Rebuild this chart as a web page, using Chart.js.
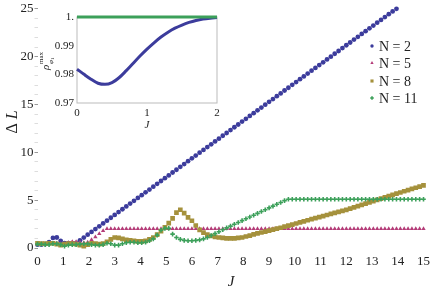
<!DOCTYPE html>
<html>
<head>
<meta charset="utf-8">
<script src="https://cdn.jsdelivr.net/npm/chart.js@4.4.0/dist/chart.umd.min.js"></script>
<style>
  html, body { margin: 0; padding: 0; background: #fff; }
  #wrap { position: relative; width: 436px; height: 290px; }
  #main { position: absolute; left: 0; top: 0; }
  #inset { position: absolute; left: 30px; top: 5px; }
</style>
</head>
<body>
<div id="wrap">
  <canvas id="main" width="436" height="290"></canvas>
  <canvas id="inset" width="200" height="130"></canvas>
</div>
<script>
// main plot: Delta L against J
const J = [
  0, 0.15, 0.3, 0.45, 0.6, 0.75, 0.9, 1.05, 1.2, 1.35,
  1.5, 1.65, 1.8, 1.95, 2.1, 2.25, 2.4, 2.55, 2.7, 2.85,
  3, 3.15, 3.3, 3.45, 3.6, 3.75, 3.9, 4.05, 4.2, 4.35,
  4.5, 4.65, 4.8, 4.95, 5.1, 5.25, 5.4, 5.55, 5.7, 5.85,
  6, 6.15, 6.3, 6.45, 6.6, 6.75, 6.9, 7.05, 7.2, 7.35,
  7.5, 7.65, 7.8, 7.95, 8.1, 8.25, 8.4, 8.55, 8.7, 8.85,
  9, 9.15, 9.3, 9.45, 9.6, 9.75, 9.9, 10.05, 10.2, 10.35,
  10.5, 10.65, 10.8, 10.95, 11.1, 11.25, 11.4, 11.55, 11.7, 11.85,
  12, 12.15, 12.3, 12.45, 12.6, 12.75, 12.9, 13.05, 13.2, 13.35,
  13.5, 13.65, 13.8, 13.95, 14.1, 14.25, 14.4, 14.55, 14.7, 14.85,
  15
];

const n2 = [
  0.35, 0.35, 0.4, 0.6, 1.05, 1.1, 0.75, 0.5, 0.5, 0.5,
  0.5, 0.8, 1.09, 1.39, 1.68, 1.98, 2.27, 2.57, 2.86, 3.16,
  3.46, 3.75, 4.05, 4.34, 4.64, 4.93, 5.23, 5.52, 5.82, 6.11,
  6.41, 6.71, 7.0, 7.3, 7.59, 7.89, 8.18, 8.48, 8.77, 9.07,
  9.37, 9.66, 9.96, 10.25, 10.55, 10.84, 11.14, 11.43, 11.73, 12.02,
  12.32, 12.62, 12.91, 13.21, 13.5, 13.8, 14.09, 14.39, 14.68, 14.98,
  15.28, 15.57, 15.87, 16.16, 16.46, 16.75, 17.05, 17.34, 17.64, 17.93,
  18.23, 18.53, 18.82, 19.12, 19.41, 19.71, 20.0, 20.3, 20.59, 20.89,
  21.19, 21.48, 21.78, 22.07, 22.37, 22.66, 22.96, 23.25, 23.55, 23.84,
  24.14, 24.44, 24.73, 25.0, null, null, null, null, null, null,
  null
];

const n5 = [
  0.45, 0.45, 0.4, 0.45, 0.5, 0.5, 0.45, 0.45, 0.55, 0.65,
  0.65, 0.6, 0.55, 0.6, 0.85, 1.15, 1.5, 1.8, 2.0, 2.0,
  2.0, 2.0, 2.0, 2.0, 2.0, 2.0, 2.0, 2.0, 2.0, 2.0,
  2.0, 2.0, 2.0, 2.0, 2.0, 2.0, 2.0, 2.0, 2.0, 2.0,
  2.0, 2.0, 2.0, 2.0, 2.0, 2.0, 2.0, 2.0, 2.0, 2.0,
  2.0, 2.0, 2.0, 2.0, 2.0, 2.0, 2.0, 2.0, 2.0, 2.0,
  2.0, 2.0, 2.0, 2.0, 2.0, 2.0, 2.0, 2.0, 2.0, 2.0,
  2.0, 2.0, 2.0, 2.0, 2.0, 2.0, 2.0, 2.0, 2.0, 2.0,
  2.0, 2.0, 2.0, 2.0, 2.0, 2.0, 2.0, 2.0, 2.0, 2.0,
  2.0, 2.0, 2.0, 2.0, 2.0, 2.0, 2.0, 2.0, 2.0, 2.0,
  2.0
];

const n8 = [
  0.5, 0.45, 0.45, 0.5, 0.5, 0.4, 0.3, 0.4, 0.45, 0.45,
  0.4, 0.3, 0.2, 0.35, 0.5, 0.45, 0.4, 0.45, 0.65, 0.9,
  1.1, 1.05, 0.95, 0.85, 0.8, 0.75, 0.7, 0.7, 0.75, 0.9,
  1.1, 1.4, 1.75, 2.15, 2.6, 3.1, 3.7, 4.0, 3.65, 3.2,
  2.85, 2.35, 1.9, 1.6, 1.4, 1.25, 1.15, 1.1, 1.05, 1.0,
  1.0, 1.0, 1.05, 1.1, 1.2, 1.3, 1.42, 1.52, 1.62, 1.72,
  1.82, 1.92, 2.02, 2.12, 2.23, 2.34, 2.45, 2.56, 2.67, 2.78,
  2.9, 3.01, 3.12, 3.23, 3.34, 3.45, 3.56, 3.67, 3.78, 3.88,
  3.99, 4.11, 4.24, 4.37, 4.5, 4.63, 4.76, 4.9, 5.03, 5.16,
  5.29, 5.42, 5.55, 5.68, 5.8, 5.93, 6.05, 6.18, 6.3, 6.42,
  6.55
];

const n11 = [
  0.4, 0.4, 0.35, 0.35, 0.45, 0.45, 0.35, 0.2, 0.3, 0.35,
  0.35, 0.4, 0.45, 0.45, 0.35, 0.3, 0.3, 0.35, 0.5, 0.45,
  0.3, 0.3, 0.45, 0.55, 0.6, 0.6, 0.55, 0.55, 0.6, 0.75,
  0.95, 1.35, 1.85, 2.05, 2.05, 1.45, 1.1, 0.9, 0.8, 0.75,
  0.75, 0.8, 0.85, 0.95, 1.1, 1.3, 1.5, 1.7, 1.9, 2.1,
  2.29, 2.48, 2.67, 2.86, 3.05, 3.24, 3.43, 3.62, 3.81, 4.0,
  4.19, 4.38, 4.57, 4.76, 4.95, 5.1, 5.1, 5.1, 5.1, 5.1,
  5.1, 5.1, 5.1, 5.1, 5.1, 5.1, 5.1, 5.1, 5.1, 5.1,
  5.1, 5.1, 5.1, 5.1, 5.1, 5.1, 5.1, 5.1, 5.1, 5.1,
  5.1, 5.1, 5.1, 5.1, 5.1, 5.1, 5.1, 5.1, 5.1, 5.1,
  5.1
];

const seriesLabels = ['N = 2', 'N = 5', 'N = 8', 'N = 11'];

// inset: rho max against J
const insetJ = [0, 0.1, 0.2, 0.3, 0.4, 0.5, 0.6, 0.7, 0.8, 0.9, 1.0,
                1.1, 1.2, 1.3, 1.4, 1.5, 1.6, 1.7, 1.8, 1.9, 2.0];
const insetN2 = [0.9818, 0.98, 0.9783, 0.9769, 0.9765, 0.9771, 0.9788, 0.9812, 0.9838, 0.9864, 0.9888,
                 0.991, 0.993, 0.9947, 0.9961, 0.9972, 0.9981, 0.9988, 0.9993, 0.9996, 0.9998];
const insetN11 = [1, 1, 1, 1, 1, 1, 1, 1, 1, 1, 1,
                  1, 1, 1, 1, 1, 1, 1, 1, 1, 1];

const BLUE = '#3c3c9c';
const PINK = '#b43c78';
const OLIVE = '#a5913c';
const GREEN = '#3ca05a';
const SERIF = '"Liberation Serif", "DejaVu Serif", serif';

function toPoints(xs, ys) {
    const pts = [];
    xs.forEach((x, i) => {
        if (ys[i] !== null) pts.push({ x: x, y: ys[i] });
    });
    return pts;
}

function drawMarker(ctx, ds, x, y, r) {
    ctx.fillStyle = ds.backgroundColor;
    ctx.strokeStyle = ds.borderColor;
    ctx.lineWidth = ds.borderWidth || 0;
    Chart.helpers.drawPoint(ctx, { pointStyle: ds.pointStyle, radius: r, rotation: 0, borderWidth: ds.borderWidth || 0 }, x, y);
}

const mainDecor = {
    id: 'mainDecor',
    afterDraw(chart) {
        const ctx = chart.ctx;
        ctx.save();
        ctx.fillStyle = '#222';
        ctx.textBaseline = 'middle';
        ctx.textAlign = 'center';
        ctx.font = 'italic 15px ' + SERIF;
        ctx.fillText('J', 231, 282);

        // y title, upright delta + italic L
        ctx.save();
        ctx.translate(13, 122);
        ctx.rotate(-Math.PI / 2);
        ctx.textAlign = 'left';
        ctx.font = '16px ' + SERIF;
        const wa = ctx.measureText('Δ ').width;
        ctx.font = 'italic 16px ' + SERIF;
        const wb = ctx.measureText('L').width;
        const x0 = -(wa + wb) / 2;
        ctx.font = '16px ' + SERIF;
        ctx.fillText('Δ ', x0, 0);
        ctx.font = 'italic 16px ' + SERIF;
        ctx.fillText('L', x0 + wa, 0);
        ctx.restore();

        // legend
        const rows = [46, 63, 81, 98];
        const sizes = [1.7, 1.9, 2.2, 1.8];
        chart.data.datasets.forEach((ds, i) => {
            drawMarker(ctx, ds, 372, rows[i], sizes[i]);
            ctx.fillStyle = '#222';
            ctx.textAlign = 'left';
            ctx.font = '14px ' + SERIF;
            ctx.fillText(ds.label, 379, rows[i] + 1);
        });
        ctx.restore();
    }
};

new Chart(document.getElementById('main').getContext('2d'), {
    type: 'scatter',
    data: {
        datasets: [
            { label: seriesLabels[0], data: toPoints(J, n2), pointStyle: 'circle', pointRadius: 2.4,
              backgroundColor: BLUE, borderColor: BLUE, borderWidth: 0, order: 4, clip: 5 },
            { label: seriesLabels[1], data: toPoints(J, n5), pointStyle: 'triangle', pointRadius: 2.5,
              backgroundColor: PINK, borderColor: PINK, borderWidth: 0, order: 3, clip: 5 },
            { label: seriesLabels[2], data: toPoints(J, n8), pointStyle: 'rect', pointRadius: 3.3,
              backgroundColor: OLIVE, borderColor: OLIVE, borderWidth: 0, order: 2, clip: 5 },
            { label: seriesLabels[3], data: toPoints(J, n11), pointStyle: 'cross', pointRadius: 2.3,
              backgroundColor: GREEN, borderColor: GREEN, borderWidth: 1.6, order: 1, clip: 5 }
        ]
    },
    options: {
        responsive: false,
        animation: false,
        devicePixelRatio: 1,
        layout: { padding: { top: 8, right: 9, left: 0, bottom: 0 } },
        plugins: { legend: { display: false }, tooltip: { enabled: false } },
        elements: { point: { hoverRadius: 3 } },
        scales: {
            x: {
                type: 'linear', min: 0, max: 15,
                grid: { display: false, drawTicks: false },
                border: { display: false },
                ticks: { stepSize: 1, padding: 6, color: '#222', font: { family: SERIF, size: 13 }, maxRotation: 0, autoSkip: false },
                afterFit(scale) { scale.height = 42; }
            },
            y: {
                type: 'linear', min: 0, max: 25,
                grid: {
                    drawOnChartArea: false, drawTicks: true, tickLength: 3,
                    color: ctx => (ctx.tick && ctx.tick.value % 5 === 0) ? '#999' : '#ddd'
                },
                border: { display: false },
                ticks: {
                    stepSize: 1, padding: 1, autoSkip: false, color: '#222',
                    font: { family: SERIF, size: 13 },
                    callback: v => (v % 5 === 0 ? String(v) : '')
                },
                afterFit(scale) { scale.width = 37.5; }
            }
        }
    },
    plugins: [mainDecor]
});

const insetDecor = {
    id: 'insetDecor',
    beforeDatasetsDraw(chart) {
        const ctx = chart.ctx;
        const a = chart.chartArea;
        ctx.save();
        ctx.strokeStyle = '#bbb';
        ctx.lineWidth = 1;
        ctx.strokeRect(a.left, a.top, a.right - a.left, a.bottom - a.top);
        ctx.restore();
    },
    afterDraw(chart) {
        const ctx = chart.ctx;
        ctx.save();
        ctx.fillStyle = '#222';
        ctx.textAlign = 'center';
        ctx.textBaseline = 'middle';
        ctx.font = 'italic 11px ' + SERIF;
        ctx.fillText('J', 117, 120);

        // rho^max_phi1, rotated
        ctx.translate(16, 56);
        ctx.rotate(-Math.PI / 2);
        ctx.textAlign = 'left';
        ctx.textBaseline = 'alphabetic';
        ctx.font = 'italic 11px ' + SERIF;
        ctx.fillText('ρ', -9, 3);
        ctx.font = '7px ' + SERIF;
        ctx.fillText('max', -3, -3);
        ctx.font = 'italic 7px ' + SERIF;
        ctx.fillText('φ', -3, 7);
        ctx.font = '5px ' + SERIF;
        ctx.fillText('1', 1, 8);
        ctx.restore();
    }
};

new Chart(document.getElementById('inset').getContext('2d'), {
    type: 'line',
    data: {
        datasets: [
            { data: toPoints(insetJ, insetN11), borderColor: GREEN, borderWidth: 3, pointRadius: 0, order: 1, clip: 4 },
            { data: toPoints(insetJ, insetN2), borderColor: BLUE, borderWidth: 3, pointRadius: 0,
              cubicInterpolationMode: 'monotone', order: 2, clip: 4 }
        ]
    },
    options: {
        responsive: false,
        animation: false,
        devicePixelRatio: 1,
        layout: { padding: { top: 12, right: 13, left: 0, bottom: 0 } },
        plugins: { legend: { display: false }, tooltip: { enabled: false } },
        scales: {
            x: {
                type: 'linear', min: 0, max: 2,
                grid: { display: false, drawTicks: false },
                border: { display: false },
                ticks: { stepSize: 1, padding: 4, color: '#222', font: { family: SERIF, size: 11 }, maxRotation: 0 },
                afterFit(scale) { scale.height = 32; }
            },
            y: {
                type: 'linear', min: 0.97, max: 1,
                grid: { display: false, drawTicks: false },
                border: { display: false },
                ticks: {
                    stepSize: 0.01, padding: 3, color: '#222', font: { family: SERIF, size: 11 },
                    callback: v => (v > 0.9995 ? '1.' : v.toFixed(2))
                },
                afterFit(scale) { scale.width = 47; }
            }
        }
    },
    plugins: [insetDecor]
});
</script>
</body>
</html>
